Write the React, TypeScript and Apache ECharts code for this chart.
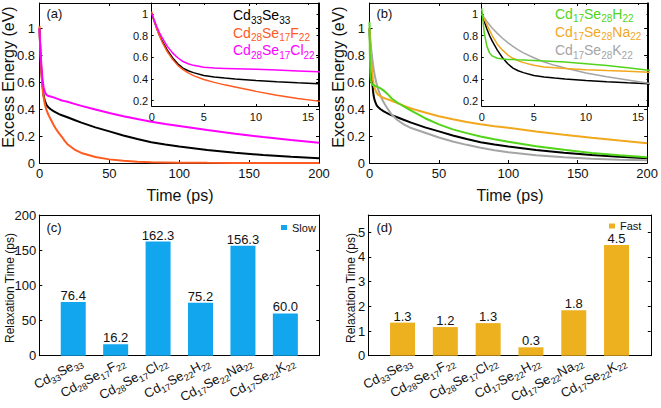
import React, { useEffect, useRef } from 'react';
import * as echarts from 'echarts';

// ---------- data ----------
const times = [0, 0.25, 0.5, 0.75, 1, 1.5, 2, 2.5, 3, 3.5, 4, 5, 6, 7, 8, 10, 12, 14, 16, 18, 20, 25, 30, 40, 50, 60, 70, 80, 90, 100, 120, 140, 160, 180, 200];
const energyCd33Se33 = [1.0, 0.93, 0.86, 0.8, 0.75, 0.665, 0.595, 0.54, 0.5, 0.475, 0.458, 0.432, 0.418, 0.408, 0.4, 0.386, 0.374, 0.364, 0.355, 0.348, 0.34, 0.32, 0.3, 0.265, 0.235, 0.205, 0.178, 0.155, 0.137, 0.122, 0.096, 0.076, 0.06, 0.047, 0.036];
const energyF = [1.02, 0.93, 0.86, 0.795, 0.74, 0.65, 0.58, 0.525, 0.485, 0.455, 0.43, 0.395, 0.368, 0.345, 0.325, 0.285, 0.25, 0.22, 0.195, 0.165, 0.14, 0.1, 0.075, 0.045, 0.027, 0.016, 0.01, 0.006, 0.004, 0.002, 0.001, 0.0005, 0.0002, 0.0001, 0];
const energyCl = [1.0, 0.94, 0.88, 0.825, 0.78, 0.7, 0.64, 0.595, 0.56, 0.54, 0.525, 0.507, 0.5, 0.497, 0.494, 0.488, 0.481, 0.473, 0.465, 0.46, 0.455, 0.44, 0.425, 0.398, 0.372, 0.348, 0.327, 0.307, 0.29, 0.275, 0.245, 0.218, 0.193, 0.171, 0.151];
const energyH = [1.05, 0.82, 0.7, 0.64, 0.612, 0.59, 0.583, 0.58, 0.578, 0.576, 0.575, 0.57, 0.565, 0.56, 0.555, 0.54, 0.523, 0.503, 0.48, 0.465, 0.45, 0.42, 0.39, 0.333, 0.287, 0.25, 0.222, 0.197, 0.176, 0.158, 0.125, 0.098, 0.075, 0.057, 0.042];
const energyNa = [1.0, 0.95, 0.9, 0.85, 0.8, 0.72, 0.665, 0.62, 0.59, 0.568, 0.55, 0.525, 0.51, 0.502, 0.495, 0.485, 0.477, 0.47, 0.462, 0.454, 0.445, 0.425, 0.405, 0.375, 0.348, 0.325, 0.305, 0.288, 0.274, 0.262, 0.235, 0.21, 0.188, 0.167, 0.147];
const energyK = [1.0, 0.965, 0.93, 0.9, 0.87, 0.82, 0.775, 0.735, 0.7, 0.668, 0.64, 0.595, 0.555, 0.525, 0.5, 0.455, 0.42, 0.39, 0.36, 0.34, 0.32, 0.285, 0.26, 0.225, 0.19, 0.16, 0.135, 0.113, 0.095, 0.08, 0.058, 0.043, 0.032, 0.025, 0.02];

const legendNamesA = ['Cd_{33}Se_{33}', 'Cd_{28}Se_{17}F_{22}', 'Cd_{28}Se_{17}Cl_{22}'];
const legendNamesB = ['Cd_{17}Se_{28}H_{22}', 'Cd_{17}Se_{28}Na_{22}', 'Cd_{17}Se_{28}K_{22}'];

const compoundNames = ['Cd_{33}Se_{33}', 'Cd_{28}Se_{17}F_{22}', 'Cd_{28}Se_{17}Cl_{22}', 'Cd_{17}Se_{22}H_{22}', 'Cd_{17}Se_{22}Na_{22}', 'Cd_{17}Se_{22}K_{22}'];
const slowTimes = [76.4, 16.2, 162.3, 75.2, 156.3, 60.0];
const fastTimes = [1.34, 1.16, 1.32, 0.34, 1.84, 4.48];

const energyTicks = [0, 0.2, 0.4, 0.6, 0.8, 1];
const insetEnergyTicks = [0.2, 0.4, 0.6, 0.8, 1];
const slowTicks = [0, 50, 100, 150, 200];
const fastTicks = [0, 1, 2, 3, 4, 5];
const categoryPositions = [1, 2, 3, 4, 5, 6];

// ---------- style ----------
const FONT = '"Liberation Sans", Arial, Helvetica, sans-serif';
const C_BLACK = '#000000';
const C_F = '#FF5A1F';
const C_CL = '#FF00FF';
const C_H = '#52D41A';
const C_NA = '#F2A81D';
const C_K = '#A5A5A5';
const C_SLOW = '#12A6EE';
const C_FAST = '#EDB120';

const fmtNum = (v: number) => String(Math.round(v * 10) / 10);

// ---------- text helpers (plain text pieces for subscripts) ----------
let measureCtx: CanvasRenderingContext2D | null = null;
function measure(text: string, size: number) {
  if (!measureCtx) measureCtx = document.createElement('canvas').getContext('2d');
  if (!measureCtx) return text.length * size * 0.55;
  measureCtx.font = `${size}px ${FONT}`;
  return measureCtx.measureText(text).width;
}
function parseTex(label: string) {
  const out: { t: string; sub: boolean }[] = [];
  const re = /_\{([^}]*)\}|([^_]+)/g;
  let m: RegExpExecArray | null;
  while ((m = re.exec(label))) {
    if (m[1] !== undefined) out.push({ t: m[1], sub: true });
    else out.push({ t: m[2], sub: false });
  }
  return out;
}
function texChildren(label: string, size: number, subSize: number, subDy: number, fill: string, rightAlign: boolean) {
  const toks = parseTex(label);
  const widths = toks.map((k) => measure(k.t, k.sub ? subSize : size));
  const total = widths.reduce((a, b) => a + b, 0);
  let x = rightAlign ? -total : 0;
  return toks.map((k, i) => {
    const el = {
      type: 'text',
      x,
      y: k.sub ? subDy : 0,
      silent: true,
      style: { text: k.t, font: `${k.sub ? subSize : size}px ${FONT}`, fill, align: 'left', verticalAlign: 'middle' },
    };
    x += widths[i];
    return el;
  });
}
function texGroup(x: number, y: number, label: string, fill: string) {
  return { type: 'group', x, y, children: texChildren(label, 14, 10, 5, fill, false) };
}
function plainText(x: number, y: number, text: string, size: number, rotation = 0, align = 'left') {
  return {
    type: 'text',
    x,
    y,
    rotation,
    silent: true,
    style: { text, fill: '#111', font: `${size}px ${FONT}`, align, verticalAlign: 'middle' },
  };
}

function axis(gridIndex: number, position: string, min: number, max: number, interval: number, labels: boolean, o: any) {
  const ax: any = {
    type: 'value',
    gridIndex,
    position,
    min,
    max,
    interval,
    axisLine: { show: true, onZero: false, lineStyle: { color: '#000', width: 1 } },
    axisTick: { show: o.tickShow !== false, inside: true, length: o.tickLen, lineStyle: { color: '#000', width: 1 } },
    axisLabel: {
      show: labels && o.labelShow !== false,
      fontSize: o.fontSize,
      fontFamily: FONT,
      color: '#111',
      margin: o.margin,
      formatter: o.formatter || fmtNum,
    },
    splitLine: { show: false },
  };
  if (o.customTicks) {
    ax.axisTick.customValues = o.customTicks;
    ax.axisLabel.customValues = o.customTicks;
  }
  return ax;
}

const pairs = (arr: number[]) => times.map((t, i) => [t, arr[i]]);

function lineSeries(name: string, arr: number[], color: string, axisIndex: number, width: number) {
  return {
    type: 'line',
    name,
    xAxisIndex: axisIndex,
    yAxisIndex: axisIndex,
    data: pairs(arr),
    symbol: 'none',
    showSymbol: false,
    clip: true,
    lineStyle: { color, width },
    itemStyle: { color },
    z: 3,
  };
}

function buildOption() {
  const grids = [
    { left: 39.5, top: 3, width: 279.5, height: 160 },
    { left: 151.7, top: 3, width: 166.8, height: 103 },
    { left: 369.5, top: 3, width: 279.5, height: 160 },
    { left: 481.7, top: 3, width: 166.8, height: 103 },
    { left: 39.3, top: 215, width: 280, height: 140.7 },
    { left: 368.3, top: 215, width: 282.5, height: 140.7 },
  ];

  const mainX = { tickLen: 3, fontSize: 13, margin: 4 };
  const mainY = { tickLen: 3, labelShow: false };
  const insX = { tickLen: 2, fontSize: 11, margin: 5, formatter: (v: number) => (v > 15.5 ? '' : fmtNum(v)) };
  const insY = { tickLen: 2, labelShow: false, customTicks: insetEnergyTicks };
  const catX = { tickLen: 3, customTicks: categoryPositions, labelShow: false };
  const barY = { tickLen: 3, labelShow: false };

  const xAxis: any[] = [];
  const yAxis: any[] = [];
  const addPair = (g: number, xr: number[], xo: any, yr: number[], yo: any, topTicks: boolean) => {
    xAxis.push(axis(g, 'bottom', xr[0], xr[1], xr[2], true, xo));
    xAxis.push(axis(g, 'top', xr[0], xr[1], xr[2], false, { ...xo, tickShow: topTicks }));
    yAxis.push(axis(g, 'left', yr[0], yr[1], yr[2], true, yo));
    yAxis.push(axis(g, 'right', yr[0], yr[1], yr[2], false, yo));
  };
  // axis indices: grid g -> bottom/left = 2g, top/right = 2g+1
  addPair(0, [0, 200, 50], mainX, [0, 1.19, 0.2], mainY, true);
  addPair(1, [0, 16, 5], insX, [0.15, 1.1, undefined as any], insY, true);
  addPair(2, [0, 200, 50], mainX, [0, 1.19, 0.2], mainY, true);
  addPair(3, [0, 16, 5], insX, [0.15, 1.1, undefined as any], insY, true);
  addPair(4, [0.2, 6.8, undefined as any], catX, [0, 200, 50], barY, false);
  addPair(5, [0.2, 6.8, undefined as any], catX, [0, 5.7, 1], barY, false);

  const series: any[] = [
    lineSeries('Cd33Se33', energyCd33Se33, C_BLACK, 0, 2),
    lineSeries('F', energyF, C_F, 0, 2),
    lineSeries('Cl', energyCl, C_CL, 0, 2),
    lineSeries('Cd33Se33 inset', energyCd33Se33, C_BLACK, 2, 1.5),
    lineSeries('F inset', energyF, C_F, 2, 1.5),
    lineSeries('Cl inset', energyCl, C_CL, 2, 1.5),
    lineSeries('Cd33Se33 b', energyCd33Se33, C_BLACK, 4, 2),
    lineSeries('K', energyK, C_K, 4, 2),
    lineSeries('Na', energyNa, C_NA, 4, 2),
    lineSeries('H', energyH, C_H, 4, 2),
    lineSeries('Cd33Se33 b inset', energyCd33Se33, C_BLACK, 6, 1.5),
    lineSeries('K inset', energyK, C_K, 6, 1.5),
    lineSeries('Na inset', energyNa, C_NA, 6, 1.5),
    lineSeries('H inset', energyH, C_H, 6, 1.5),
  ];

  const barLabel = {
    show: true,
    position: 'top',
    distance: 0,
    fontSize: 13,
    fontFamily: FONT,
    color: '#111',
    formatter: (p: any) => Number(p.value[1]).toFixed(1),
  };
  series.push({
    type: 'bar', name: 'Slow', xAxisIndex: 8, yAxisIndex: 8, barWidth: 25,
    data: slowTimes.map((v, i) => [categoryPositions[i], v]),
    itemStyle: { color: C_SLOW }, label: barLabel,
  });
  series.push({
    type: 'bar', name: 'Fast', xAxisIndex: 10, yAxisIndex: 10, barWidth: 25,
    data: fastTimes.map((v, i) => [categoryPositions[i], v]),
    itemStyle: { color: C_FAST }, label: barLabel,
  });

  const legendCommon = {
    orient: 'horizontal', padding: 0, itemWidth: 6, itemHeight: 5, icon: 'rect', selectedMode: false,
    textStyle: { fontSize: 11, fontFamily: FONT, color: '#111' },
  };

  return {
    animation: false,
    backgroundColor: '#ffffff',
    grid: grids,
    xAxis,
    yAxis,
    series,
    legend: [
      { ...legendCommon, data: ['Slow'], left: 281, top: 222 },
      { ...legendCommon, data: ['Fast'], left: 609, top: 220.5 },
    ],
  };
}

// y tick label sets: [axisIndex, ticks, fontSize, margin]
const yLabelSets: [number, number[], number, number][] = [
  [0, energyTicks, 13, 4.5],
  [2, insetEnergyTicks, 11, 3.5],
  [4, energyTicks, 13, 4.5],
  [6, insetEnergyTicks, 11, 3.5],
  [8, slowTicks, 13, 3],
  [10, fastTicks, 13, 3],
];

function buildGraphic(chart: echarts.ECharts) {
  const graphic: any[] = [
    plainText(46.5, 13.5, '(a)', 13),
    plainText(376.5, 13.5, '(b)', 13),
    plainText(46.5, 227, '(c)', 13),
    plainText(376.5, 227, '(d)', 13),
    plainText(8.5, 77, 'Excess Energy (eV)', 16, Math.PI / 2, 'center'),
    plainText(338, 77, 'Excess Energy (eV)', 16, Math.PI / 2, 'center'),
    plainText(180, 195, 'Time (ps)', 16, 0, 'center'),
    plainText(510, 195, 'Time (ps)', 16, 0, 'center'),
    plainText(9.5, 288, 'Relaxation Time (ps)', 12, Math.PI / 2, 'center'),
    plainText(351, 288, 'Relaxation Time (ps)', 12, Math.PI / 2, 'center'),
    texGroup(233, 15, legendNamesA[0], C_BLACK),
    texGroup(233, 32.5, legendNamesA[1], C_F),
    texGroup(233, 50, legendNamesA[2], C_CL),
    texGroup(555, 13.5, legendNamesB[0], C_H),
    texGroup(555, 31.5, legendNamesB[1], C_NA),
    texGroup(555, 50, legendNamesB[2], C_K),
  ];
  // y tick labels, placed through the axes' own scales
  yLabelSets.forEach(([ai, ticks, size, margin]) => {
    ticks.forEach((v) => {
      const pt = chart.convertToPixel({ xAxisIndex: ai, yAxisIndex: ai } as any, [ai >= 8 ? 0.2 : 0, v]) as any;
      if (!pt || !isFinite(pt[0]) || !isFinite(pt[1])) return;
      graphic.push({
        type: 'text',
        x: pt[0] - margin,
        y: pt[1],
        silent: true,
        style: { text: fmtNum(v), font: `${size}px ${FONT}`, fill: '#111', align: 'right', verticalAlign: 'middle' },
      });
    });
  });
  // rotated category labels for panels (c) and (d), anchored at the axis ticks
  [8, 10].forEach((axisIndex) => {
    categoryPositions.forEach((pos, i) => {
      const pt = chart.convertToPixel({ xAxisIndex: axisIndex, yAxisIndex: axisIndex } as any, [pos, 0]) as any;
      if (!pt || !isFinite(pt[0])) return;
      graphic.push({
        type: 'group',
        x: pt[0] + 8,
        y: pt[1] + 5,
        rotation: (28 * Math.PI) / 180,
        children: texChildren(compoundNames[i], 13, 9, 4.5, '#111', true),
      });
    });
  });
  return graphic;
}

export default function App() {
  const ref = useRef<HTMLDivElement>(null);
  useEffect(() => {
    if (!ref.current) return;
    const chart = echarts.init(ref.current, null, { renderer: 'svg' });
    chart.setOption(buildOption() as any);
    chart.setOption({ graphic: buildGraphic(chart) } as any);
    return () => chart.dispose();
  }, []);
  return (
    <div ref={ref} style={{ position: 'fixed', left: 0, top: 0, width: 661, height: 408, background: '#fff' }} />
  );
}
